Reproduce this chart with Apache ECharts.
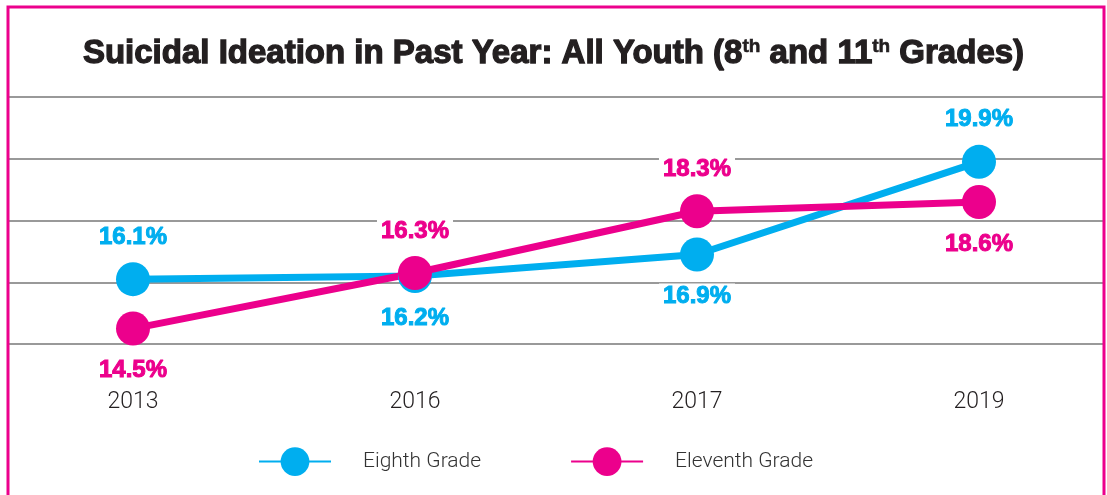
<!DOCTYPE html>
<html>
<head>
<meta charset="utf-8">
<script src="https://cdn.jsdelivr.net/npm/echarts@6/dist/echarts.min.js"></script>
<style>
  html, body { margin: 0; padding: 0; background: #fff; }
  #main { width: 1107px; height: 495px; }
</style>
</head>
<body>
<div id="main"></div>
<script>
  // 数据
  var years = ['2013', '2016', '2017', '2019'];
  var eighth = [16.1, 16.2, 16.9, 19.9];
  var eleventh = [14.5, 16.3, 18.3, 18.6];
  // 标签在点的上方还是下方
  var eighthPos = ['top', 'bottom', 'bottom', 'top'];
  var eleventhPos = ['bottom', 'top', 'top', 'bottom'];

  var cyan = '#00AEEF';
  var pink = '#EC008C';

  function withLabels(vals, pos) {
    return vals.map(function (v, i) {
      return { value: v, label: { position: pos[i] } };
    });
  }

  function lineSeries(name, vals, pos, color) {
    return {
      name: name,
      type: 'line',
      xAxisIndex: 0,
      yAxisIndex: 0,
      data: withLabels(vals, pos),
      symbol: 'circle',
      symbolSize: 34,
      lineStyle: { color: color, width: 7 },
      itemStyle: { color: color },
      label: {
        show: true,
        distance: 12,
        formatter: function (p) { return p.value.toFixed(1) + '%'; },
        color: color,
        fontSize: 24,
        fontWeight: 'bold',
        fontFamily: 'Liberation Sans',
        textBorderColor: color,
        textBorderWidth: 1,
        backgroundColor: '#fff',
        padding: [1, 4]
      },
      z: 3
    };
  }

  var chart = echarts.init(document.getElementById('main'));
  var option = {
    animation: false,
    title: {
      text: 'Suicidal Ideation in Past Year: All Youth (8{sup|th} and 11{sup|th} Grades)',
      left: 'center',
      top: 32,
      textStyle: {
        fontFamily: 'Liberation Sans',
        fontSize: 33,
        fontWeight: 'bold',
        color: '#231F20',
        textBorderColor: '#231F20',
        textBorderWidth: 1.3,
        rich: {
          sup: { fontFamily: 'Liberation Sans', fontSize: 19, fontWeight: 'bold', color: '#231F20', textBorderColor: '#231F20', textBorderWidth: 0.6, verticalAlign: 'top', padding: [0, 0, 14, 0] }
        }
      }
    },
    legend: {
      bottom: 14,
      left: 253,
      itemWidth: 72,
      itemHeight: 36,
      itemGap: 89,
      textStyle: { fontFamily: 'Roboto', fontWeight: 300, fontSize: 21, color: '#333', padding: [0, 0, 0, 27] },
      data: ['Eighth Grade', 'Eleventh Grade']
    },
    grid: [
      { left: 133, right: 128, top: 97, bottom: 151 },
      { left: 8, right: 3, top: 97, bottom: 151 }
    ],
    xAxis: [
      {
        type: 'category', gridIndex: 0, data: years, boundaryGap: false,
        axisLine: { show: false }, axisTick: { show: false },
        axisLabel: { margin: 47, fontFamily: 'Roboto', fontWeight: 300, fontSize: 23, color: '#231F20' }
      },
      { type: 'value', gridIndex: 1, show: false }
    ],
    yAxis: [
      { type: 'value', gridIndex: 0, min: 14, max: 22, interval: 2, show: false },
      {
        type: 'value', gridIndex: 1, min: 14, max: 22, interval: 2,
        axisLabel: { show: false }, axisLine: { show: false }, axisTick: { show: false },
        splitLine: { lineStyle: { color: '#999', width: 2 } }
      }
    ],
    graphic: [{
      type: 'rect',
      shape: { x: 8, y: 7, width: 1096, height: 600 },
      style: { fill: 'none', stroke: pink, lineWidth: 3 },
      z: 10
    }],
    series: [
      lineSeries('Eighth Grade', eighth, eighthPos, cyan),
      lineSeries('Eleventh Grade', eleventh, eleventhPos, pink)
    ]
  };
  chart.setOption(option);

  window.addEventListener('resize', function () { chart.resize(); });
</script>
</body>
</html>
